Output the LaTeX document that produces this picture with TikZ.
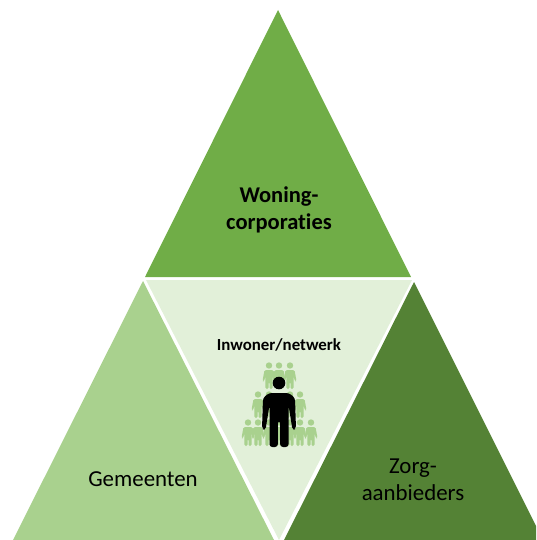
\documentclass[tikz,border=0pt]{standalone}
\usepackage{fontspec}
\setmainfont[Ligatures=NoCommon]{Carlito}
\definecolor{gtop}{HTML}{70AD47}
\definecolor{gleft}{HTML}{A9D18E}
\definecolor{gright}{HTML}{548235}
\definecolor{gmid}{HTML}{E2F0D9}
\definecolor{gfig}{HTML}{A9D18E}
\tikzset{
  x=0.01cm,y=-0.01cm,
  label text/.style={align=center,font=\fontsize{6.5}{7.6}\selectfont,text=black,inner sep=0pt},
  small person/.pic={
    \fill[gfig] (0,3.5) circle (3.2);
    \fill[gfig,rounded corners=0.4pt] (-4.5,8) -- (4.5,8) -- (6.5,19) -- (5,19.5) -- (3.6,14) -- (3.6,27) -- (0.5,27) -- (0.5,20) -- (-0.5,20) -- (-0.5,27) -- (-3.6,27) -- (-3.6,14) -- (-5,19.5) -- (-6.5,19) -- cycle;
  },
  big person/.pic={
    \fill[black] (0,-64) circle (6.3);
    \fill[black,rounded corners=0.8pt] (-10,-54) -- (10,-54) -- (16,-49) -- (17,-18) -- (13.5,-17) -- (9.5,-42) -- (9.5,0) -- (1.2,0) -- (1.2,-26) -- (-1.2,-26) -- (-1.2,0) -- (-9.5,0) -- (-9.5,-42) -- (-13.5,-17) -- (-17,-18) -- (-16,-49) -- cycle;
  }
}
\begin{document}
\begin{tikzpicture}
\useasboundingbox (0,0) rectangle (536,540);
\fill[gtop] (278,10) -- (411,277) -- (145,277) -- cycle;
\fill[gmid] (146,280) -- (412,280) -- (279,540) -- cycle;
\fill[gleft] (143,281) -- (274,540) -- (13,540) -- cycle;
\fill[gright] (414,282) -- (536,526) -- (536,540) -- (284,540) -- cycle;
\node[label text,font=\fontsize{6.4}{7.6}\selectfont\bfseries] (woning) at (279,210) {Woning-\\corporaties};
\node[label text] (gemeenten) at (143,479) {Gemeenten};
\node[label text] (zorg) at (413,480) {Zorg-\\aanbieders};
\node[label text,font=\fontsize{4.8}{6}\selectfont\bfseries] (inwoner) at (279,345) {Inwoner/netwerk};
\foreach \px in {269,279,290}{\pic at (\px,362) {small person};}
\foreach \px in {258,269,290,300}{\pic at (\px,391) {small person};}
\foreach \px in {248,258,269,279,290,300,311}{\pic at (\px,419) {small person};}
\pic at (279,447) {big person};
\end{tikzpicture}
\end{document}
